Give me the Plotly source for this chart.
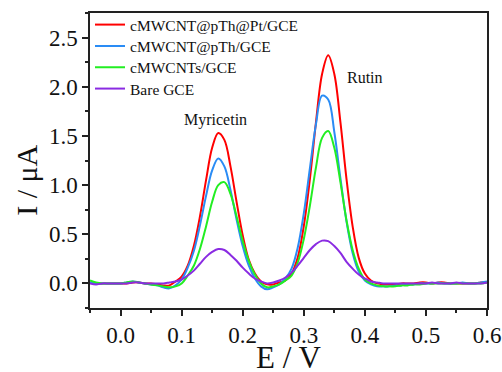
import plotly.graph_objects as go

E = [-0.05, -0.04, -0.03, -0.02, -0.01, 0.00, 0.01, 0.02, 0.03, 0.04, 0.05, 0.06, 0.07, 0.08, 0.09,
     0.10, 0.11, 0.12, 0.13, 0.14, 0.15, 0.16, 0.17, 0.18, 0.19, 0.20, 0.21, 0.22, 0.23, 0.24,
     0.25, 0.26, 0.27, 0.28, 0.29, 0.30, 0.31, 0.32, 0.33, 0.34, 0.35, 0.36, 0.37, 0.38, 0.39,
     0.40, 0.41, 0.42, 0.43, 0.44, 0.45, 0.46, 0.47, 0.48, 0.49, 0.50, 0.51, 0.52, 0.53, 0.54,
     0.55, 0.56, 0.57, 0.58, 0.59, 0.60]

i_pt = [0.01, 0.00, 0.00, 0.00, 0.00, 0.00, 0.00, 0.01, 0.01, 0.00, 0.00, -0.01, -0.02, -0.02, 0.02,
        0.07, 0.18, 0.38, 0.68, 1.05, 1.38, 1.53, 1.46, 1.19, 0.83, 0.49, 0.24, 0.10, 0.02, -0.01,
        -0.01, 0.01, 0.03, 0.10, 0.26, 0.58, 1.06, 1.64, 2.13, 2.32, 2.13, 1.64, 1.06, 0.58, 0.26,
        0.10, 0.03, 0.00, -0.01, -0.01, -0.01, 0.00, 0.00, 0.00, 0.01, 0.01, 0.00, 0.01, 0.01, 0.00,
        0.00, 0.00, 0.00, 0.00, 0.01, 0.01]

i_pth = [0.01, 0.00, 0.00, 0.00, 0.00, 0.00, 0.01, 0.02, 0.01, 0.00, -0.01, -0.02, -0.04, -0.05, -0.02,
         0.04, 0.16, 0.33, 0.59, 0.89, 1.15, 1.27, 1.19, 0.95, 0.65, 0.38, 0.18, 0.05, -0.03, -0.06,
         -0.04, -0.01, 0.05, 0.15, 0.36, 0.71, 1.17, 1.62, 1.91, 1.87, 1.54, 1.07, 0.63, 0.31, 0.12,
         0.03, -0.01, -0.03, -0.03, -0.03, -0.02, -0.02, -0.01, -0.01, 0.00, 0.00, 0.00, 0.01, 0.00, 0.00,
         0.00, 0.01, 0.00, 0.00, 0.01, 0.02]

i_cnt = [0.03, 0.01, 0.00, 0.00, 0.00, 0.00, 0.01, 0.02, 0.01, 0.00, -0.01, -0.02, -0.03, -0.04, -0.03,
         0.00, 0.08, 0.18, 0.35, 0.58, 0.83, 1.00, 1.03, 0.91, 0.68, 0.43, 0.23, 0.09, 0.00, -0.04,
         -0.03, -0.01, 0.03, 0.08, 0.21, 0.45, 0.79, 1.18, 1.48, 1.55, 1.38, 1.03, 0.64, 0.34, 0.15,
         0.04, 0.00, -0.02, -0.03, -0.03, -0.03, -0.02, -0.02, -0.01, -0.01, 0.00, 0.00, 0.00, 0.00, 0.00,
         0.00, 0.00, 0.00, 0.00, 0.00, 0.01]

i_bare = [0.00, -0.01, 0.00, 0.00, 0.00, 0.00, 0.00, 0.01, 0.01, 0.00, 0.00, 0.00, 0.00, 0.01, 0.02,
          0.04, 0.08, 0.13, 0.20, 0.27, 0.32, 0.35, 0.34, 0.29, 0.23, 0.16, 0.10, 0.05, 0.02, 0.00,
          0.01, 0.03, 0.06, 0.11, 0.18, 0.26, 0.34, 0.40, 0.435, 0.43, 0.38, 0.31, 0.22, 0.15, 0.09,
          0.05, 0.02, 0.01, 0.00, 0.00, 0.00, 0.00, 0.00, 0.00, 0.00, 0.00, 0.01, 0.00, 0.00, 0.00,
          0.01, 0.00, 0.00, 0.00, 0.00, 0.01]

names = ["cMWCNT@pTh@Pt/GCE", "cMWCNT@pTh/GCE", "cMWCNTs/GCE", "Bare GCE"]
colors = ["#ff0000", "#2a8cf5", "#22ee22", "#8a2be2"]
series = [i_pt, i_pth, i_cnt, i_bare]
legend_ids = ["legend", "legend2", "legend3", "legend4"]

x_ticks = [0.0, 0.1, 0.2, 0.3, 0.4, 0.5, 0.6]
y_ticks = [0.0, 0.5, 1.0, 1.5, 2.0, 2.5]

FONT = "Liberation Serif, Times New Roman, serif"

fig = go.Figure()
for n, c, s, lg in zip(names, colors, series, legend_ids):
    fig.add_trace(go.Scatter(x=E, y=s, name=n, mode="lines", legend=lg,
                             line=dict(color=c, width=2, shape="spline", smoothing=1.0)))

axis_common = dict(showline=True, linecolor="#222", linewidth=1.5, mirror=True,
                   ticks="outside", ticklen=6, tickwidth=1.5, tickcolor="#222",
                   showgrid=False, zeroline=False,
                   tickfont=dict(family=FONT, size=23, color="#111"))

legend_tops = [1.0169, 0.9447, 0.8725, 0.8000]
legend_style = dict(x=0.0, xanchor="left", yanchor="top",
                    font=dict(family=FONT, size=15.5, color="#111"),
                    bgcolor="rgba(0,0,0,0)", borderwidth=0)

fig.update_layout(
    width=502, height=372,
    margin=dict(l=90, r=15, t=13, b=64, autoexpand=False),
    paper_bgcolor="white", plot_bgcolor="white",
    font=dict(family=FONT, color="#111"),
    showlegend=True,
    legend=dict(y=legend_tops[0], **legend_style),
    legend2=dict(y=legend_tops[1], **legend_style),
    legend3=dict(y=legend_tops[2], **legend_style),
    legend4=dict(y=legend_tops[3], **legend_style),
    xaxis=dict(range=[-0.05, 0.6], tickvals=x_ticks, ticktext=[f"{v:.1f}" for v in x_ticks],
               minor=dict(dtick=0.05, tick0=0, ticks="outside", ticklen=3, tickwidth=1.5, tickcolor="#222"),
               **axis_common),
    yaxis=dict(range=[-0.25, 2.75], tickvals=y_ticks, ticktext=[f"{v:.1f}" for v in y_ticks],
               minor=dict(dtick=0.25, tick0=0, ticks="outside", ticklen=3, tickwidth=1.5, tickcolor="#222"),
               **axis_common),
    annotations=[
        dict(text="E / V", xref="paper", yref="paper", x=0.5, y=-0.235, xanchor="center", yanchor="bottom",
             showarrow=False, font=dict(family=FONT, size=31, color="#111")),
        dict(text="I / μA", xref="paper", yref="paper", x=-0.159, y=0.434, xanchor="center", yanchor="middle",
             textangle=-90, showarrow=False, font=dict(family=FONT, size=30, color="#111")),
        dict(text="Myricetin", x=0.156, y=1.66, xref="x", yref="y", showarrow=False,
             font=dict(family=FONT, size=16, color="#111")),
        dict(text="Rutin", x=0.401, y=2.09, xref="x", yref="y", showarrow=False,
             font=dict(family=FONT, size=16, color="#111")),
    ],
)

fig.write_html("out.html")
